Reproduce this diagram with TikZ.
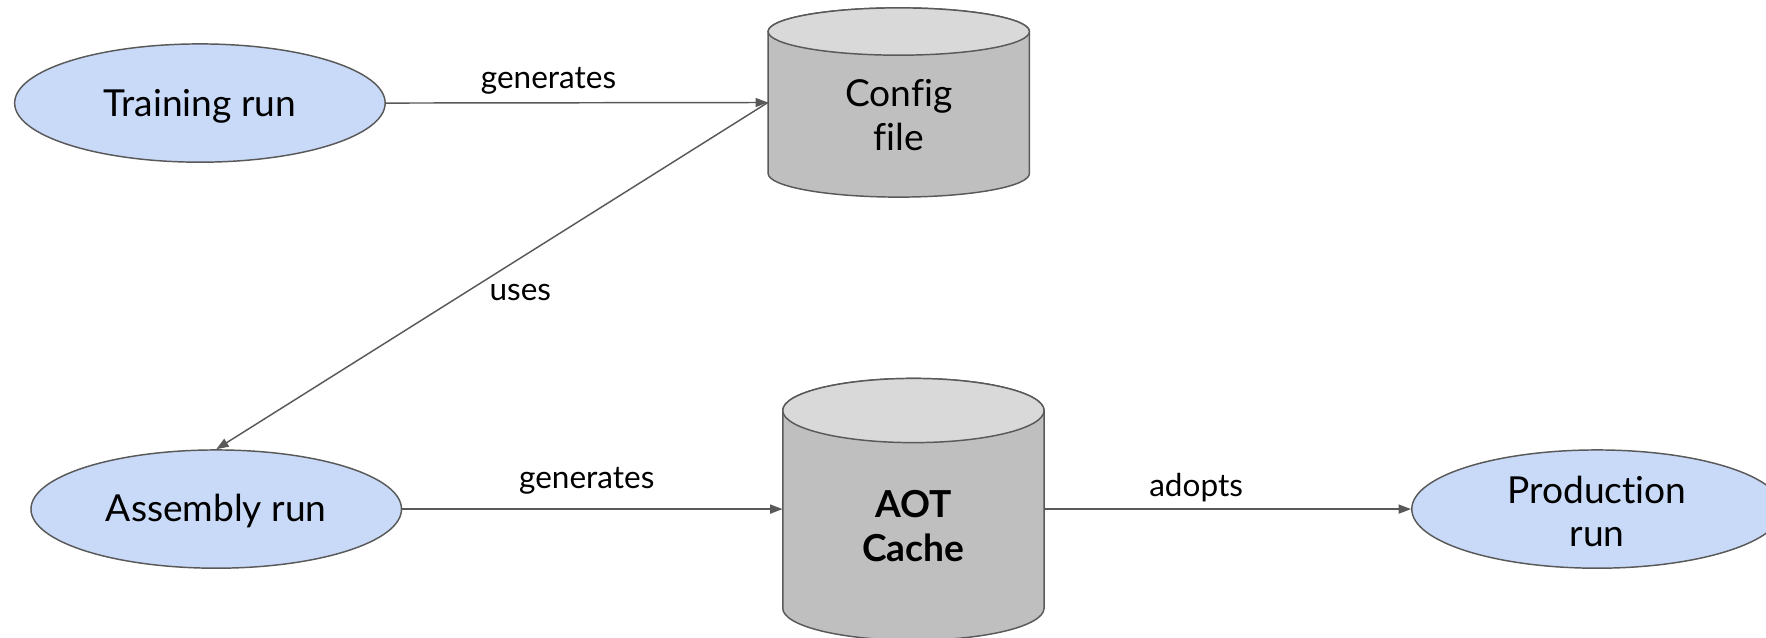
\documentclass[tikz,border=0pt]{standalone}
\usepackage{fontspec}
\setmainfont[Ligatures=NoCommon]{Lato}
\usetikzlibrary{shapes.geometric,arrows.meta}
\definecolor{edgec}{HTML}{595959}
\definecolor{runfill}{HTML}{C9DAF8}
\definecolor{cylbody}{HTML}{BFBFBF}
\definecolor{cyltop}{HTML}{D9D9D9}
\tikzset{
  run/.style={ellipse, draw=edgec, line width=1.3pt, fill=runfill, minimum width=329pt, minimum height=105pt, inner sep=0pt},
  runtext/.style={font=\fontsize{33}{38}\selectfont, align=center, inner sep=0pt},
  cylbox/.style={draw=none, inner sep=0pt, minimum width=232pt},
  cyltext/.style={font=\fontsize{33}{39}\selectfont, align=center, inner sep=0pt},
  conn/.style={draw=edgec, line width=1.3pt, -{Triangle[length=11pt,width=8pt]}},
  lab/.style={font=\fontsize{28}{32}\selectfont, inner sep=0pt},
  cylline/.style={draw=edgec, line width=1.3pt}
}
\begin{document}
\begin{tikzpicture}[x=1pt,y=1pt]
\useasboundingbox (0,0) rectangle (1568,566);
\clip (0,0) rectangle (1568,566);
% cylinders
\path[cylline, fill=cylbody] (682,538) -- (682,412) arc[start angle=180,end angle=360,x radius=116,y radius=21] -- (914,538) arc[start angle=0,end angle=180,x radius=116,y radius=21] -- cycle;
\path[cylline, fill=cyltop] (798,538) ellipse[x radius=116,y radius=21];
\node[cylbox, minimum height=168pt] (config) at (798,475) {};
\node[cyltext] (configtext) at (798,464) {Config\\file};

\path[cylline, fill=cylbody] (695,201.5) -- (695,26) arc[start angle=180,end angle=360,x radius=116,y radius=28.5] -- (927,201.5) arc[start angle=0,end angle=180,x radius=116,y radius=28.5] -- cycle;
\path[cylline, fill=cyltop] (811,201.5) ellipse[x radius=116,y radius=28.5];
\node[cylbox, minimum height=232pt] (aot) at (811,114) {};
\node[cyltext, font=\fontsize{33}{39}\selectfont\bfseries] (aottext) at (811,99) {AOT\\Cache};

% runs
\node[run] (training) at (177.5,474.5) {};
\node[runtext] (trainingtext) at (177.5,472) {Training run};
\node[run] (assembly) at (192,114) {};
\node[runtext] (assemblytext) at (192,112) {Assembly run};
\node[run] (production) at (1418,114) {};
\node[runtext] (productiontext) at (1418,112) {Production\\run};

% connectors
\draw[conn] (training.east) -- (config.west);
\draw[conn] (config.west) -- (assembly.north);
\draw[conn] (assembly.east) -- (aot.west);
\draw[conn] (aot.east) -- (production.west);

% labels
\node[lab] (l1) at (487,494) {generates};
\node[lab] (l2) at (462,306) {uses};
\node[lab] (l3) at (521,139) {generates};
\node[lab] (l4) at (1062,133) {adopts};
\end{tikzpicture}
\end{document}
